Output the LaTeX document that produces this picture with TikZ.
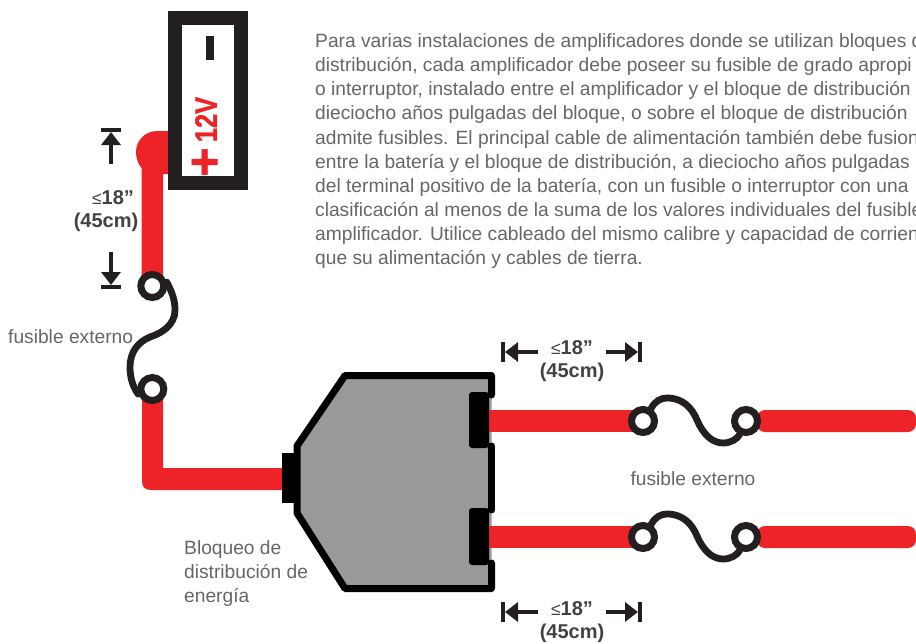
\documentclass[tikz,border=0pt]{standalone}
\usepackage{graphicx}
\usepackage{fontspec}
\setmainfont{Liberation Sans}
\newfontfamily\heavyface[BoldFont={Liberation Sans Bold},BoldFeatures={FakeBold=1.2}]{Liberation Sans}
\usetikzlibrary{arrows.meta}
\definecolor{cablered}{HTML}{ED2327}
\definecolor{ink}{HTML}{231F20}
\definecolor{txtgray}{HTML}{666668}
\definecolor{blockgray}{HTML}{999999}
\newcommand{\lesize}{{\fontsize{17.5}{17.5}\selectfont\mdseries ≤}}
\tikzset{
  cable/.style={line width=21.5pt,draw=cablered},
  redfill/.style={fill=cablered,draw=none},
  terminal/.style={circle,draw=ink,fill=white,line width=7pt,minimum size=23pt,inner sep=0pt},
  fusewire/.style={draw=ink,line width=6.8pt,line cap=round},
  dimarrow/.style={draw=ink,line width=3.6pt,-{Triangle[length=13pt,width=19pt,inset=0pt]}},
  dimbar/.style={draw=ink,line width=4pt},
  dimtext/.style={font=\fontsize{20}{24}\selectfont\bfseries,text=ink!85!white,align=center,inner sep=0pt},
  lighttext/.style={font=\fontsize{19.2}{24.1}\selectfont,text=txtgray,inner sep=0pt},
  blockline/.style={draw=black,line width=7pt,line join=round,line cap=round},
  notch/.style={fill=black,rounded corners=3pt}
}
\begin{document}
\begin{tikzpicture}[x=1pt,y=-1pt]
\useasboundingbox (0,0) rectangle (916,643);
% paragraph
\node[lighttext,anchor=north west,align=left] (para) at (315,33.5) {%
\fontsize{19.2}{24.1}\selectfont
Para varias instalaciones de amplificadores donde se utilizan bloques d\\
distribución, cada amplificador debe poseer su fusible de grado apropi\\
o interruptor, instalado entre el amplificador y el bloque de distribución a\\
dieciocho años pulgadas del bloque, o sobre el bloque de distribución\\
admite fusibles. El principal cable de alimentación también debe fusion\\
entre la batería y el bloque de distribución, a dieciocho años pulgadas\\
del terminal positivo de la batería, con un fusible o interruptor con una\\
clasificación al menos de la suma de los valores individuales del fusible\\
amplificador. Utilice cableado del mismo calibre y capacidad de corrien\\
que su alimentación y cables de tierra.};
% battery feed
\fill[redfill] (168,131) -- (157,131) .. controls (145.4,131) and (136,140.4) .. (136,152)
  .. controls (136,158) and (138,164) .. (141.5,168) -- (141.5,285) -- (163,285) -- (163,174) -- (168,174) -- cycle;
% battery
\node[draw=ink,line width=14pt,minimum width=66pt,minimum height=165pt,inner sep=0pt,fill=white] (battery) at (208,100) {};
\fill[ink] (206,36) rectangle (214,60);
\node[rotate=90,font=\fontsize{31}{31}\heavyface\bfseries,text=cablered,inner sep=0pt] (twelve) at (206,119.5) {\scalebox{.82}[1]{12V}};
\node[rotate=90,font=\fontsize{50}{50}\heavyface\bfseries,text=cablered,inner sep=0pt] (plus) at (206.5,162) {+};
% dimension left
\coordinate (dt0) at (111,164); \coordinate (dt1) at (111,132);
\draw[dimarrow] (dt0) -- (dt1);
\draw[dimbar] (101,130) -- (121,130);
\coordinate (db0) at (111,252); \coordinate (db1) at (111,285);
\draw[dimarrow] (db0) -- (db1);
\draw[dimbar] (101,287) -- (121,287);
\node[dimtext] (d1a) at (113,198) {\lesize 18”};
\node[dimtext] (d1b) at (106,222) {(45cm)};
% left cable
\fill[redfill] (142,392) -- (142,481) .. controls (142,487) and (145,490) .. (151,490) -- (285,490) -- (285,468) -- (163,468) -- (163,392) -- cycle;
% left fuse
\node[terminal] (fa) at (152.3,286) {};
\node[terminal] (fb) at (152.3,389) {};
\draw[fusewire] (fa.15) .. controls (172,292) and (175,300) .. (175,310) .. controls (175,325) and (162,333) .. (150,337)
  .. controls (138,342) and (130,352) .. (130,367) .. controls (130,378) and (133,387) .. (fb.-160);
\node[lighttext,anchor=west] (fl1) at (8,337) {fusible externo};
% block
\fill[blockgray] (491.5,375.5) -- (345,375.5) -- (297,446) -- (297,513) -- (345,588.5) -- (491.5,588.5) -- cycle;
\fill[black] (282,453) rectangle (297,503);
\coordinate (blkR1) at (489,421); \coordinate (blkR2) at (489,537);
\coordinate (ftop) at (643,421); \coordinate (fbot) at (643,537);
\draw[cable] (blkR1) -- (ftop);
\draw[cable] (blkR2) -- (fbot);
% right fuses and cables
\coordinate (end1a) at (757,410); \coordinate (end1b) at (916,432);
\coordinate (end2a) at (757,526); \coordinate (end2b) at (916,548);
\fill[redfill,rounded corners=8pt] (end1a) rectangle (end1b);
\fill[redfill,rounded corners=8pt] (end2a) rectangle (end2b);
\foreach \name/\yy in {u/0,v/116}{
  \begin{scope}[yshift=-\yy pt]
  \node[terminal] (\name a) at (643,421) {};
  \node[terminal] (\name b) at (746,421) {};
  \draw[fusewire] (\name a.57) .. controls (655,401) and (661,398) .. (667,398)
    .. controls (683,398) and (692,408) .. (697,420) .. controls (703,434) and (712,443) .. (723,443)
    .. controls (731,443) and (737,439) .. (\name b.-115);
  \end{scope}
}
% block outline
\draw[blockline] (491.5,395) -- (491.5,375.5) -- (345,375.5) -- (297,446) -- (297,513) -- (345,588.5) -- (491.5,588.5) -- (491.5,563);
\draw[blockline] (491.5,446) -- (491.5,510);
\fill[notch] (469,392) -- (489,392) -- (489,448) -- (469,448) -- cycle;
\fill[notch] (469,508) -- (489,508) -- (489,565) -- (469,565) -- cycle;
% dimension right
\draw[dimarrow] (538,352) -- (505,352); \draw[dimbar] (503,342) -- (503,362);
\draw[dimarrow] (606,352) -- (638,352); \draw[dimbar] (640,342) -- (640,362);
\draw[dimarrow] (538,612) -- (505,612); \draw[dimbar] (503,602) -- (503,622);
\draw[dimarrow] (606,612) -- (638,612); \draw[dimbar] (640,602) -- (640,622);
\node[dimtext] (d2a) at (572,348) {\lesize 18”};
\node[dimtext] (d2b) at (572,372) {(45cm)};
\node[dimtext] (d3a) at (572,609) {\lesize 18”};
\node[dimtext] (d3b) at (572,633) {(45cm)};
% labels
\node[lighttext] (fl2) at (693,479) {fusible externo};
\node[lighttext,anchor=north west,align=left] (bloq) at (184,540) {\fontsize{19.2}{24.1}\selectfont Bloqueo de\\distribución de\\energía};
\end{tikzpicture}
\end{document}
